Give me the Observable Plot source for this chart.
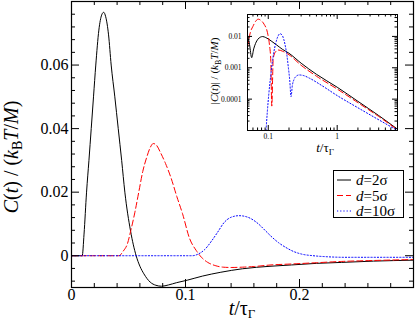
<!DOCTYPE html>
<html><head><meta charset="utf-8">
<script src="https://cdn.jsdelivr.net/npm/d3@7"></script>
<script src="https://cdn.jsdelivr.net/npm/@observablehq/plot@0.6"></script>
<style>
body{margin:0;background:white;}
#wrap{position:relative;width:415px;height:320px;overflow:hidden;background:white;}
#main{position:absolute;left:0;top:0;}
#inset{position:absolute;left:195px;top:0px;}
</style></head><body>
<div id="wrap"><div id="main"></div><div id="inset"></div></div>
<script>
// ---------- data ----------
const seriesNames = ["d=2σ", "d=5σ", "d=10σ"];
const seriesColors = ["black", "#ff0000", "#0000ff"];
const seriesDash = [null, "6,3", "1.2,2"];

// main panel: C(t)/(kB T/M) vs t/tauGamma
const blackT = [0, 0.005, 0.0094, 0.0110, 0.0132, 0.0153, 0.0173, 0.0193, 0.0213, 0.0240, 0.0265, 0.0282, 0.0300, 0.0325, 0.0348, 0.0380, 0.0410, 0.0440, 0.0468, 0.0518, 0.0567, 0.0600, 0.0635, 0.0690, 0.0740, 0.0790, 0.0850, 0.0920, 0.1015, 0.115, 0.131, 0.150, 0.175, 0.193, 0.215, 0.237, 0.265, 0.3];
const blackC = [0, 0, 0, 0.0068, 0.020, 0.030, 0.040, 0.050, 0.060, 0.0710, 0.0758, 0.0766, 0.0752, 0.0695, 0.060, 0.050, 0.040, 0.030, 0.020, 0.0078, 0, -0.0033, -0.0057, -0.0083, -0.0093, -0.0096, -0.0092, -0.0085, -0.0077, -0.0064, -0.0052, -0.0041, -0.0033, -0.0029, -0.0024, -0.0021, -0.0017, -0.0014];

const redT = [0, 0.03, 0.0415, 0.0455, 0.049, 0.052, 0.0555, 0.059, 0.0625, 0.066, 0.069, 0.0717, 0.0745, 0.078, 0.0825, 0.0872, 0.0925, 0.0975, 0.1035, 0.1095, 0.114, 0.1195, 0.126, 0.133, 0.140, 0.150, 0.160, 0.175, 0.193, 0.215, 0.237, 0.265, 0.3];
const redC = [0, 0, 0, 0.0015, 0.0037, 0.0079, 0.0135, 0.020, 0.0265, 0.0310, 0.0340, 0.0353, 0.0348, 0.0325, 0.0290, 0.0246, 0.0185, 0.0131, 0.0055, 0.0016, -0.0005, -0.0021, -0.0031, -0.0036, -0.0037, -0.0036, -0.0034, -0.0029, -0.0026, -0.0022, -0.0018, -0.0015, -0.0012];

const blueT = [0, 0.05, 0.106, 0.111, 0.117, 0.123, 0.128, 0.134, 0.140, 0.147, 0.154, 0.164, 0.170, 0.176, 0.182, 0.188, 0.195, 0.202, 0.212, 0.223, 0.24, 0.27, 0.3];
const blueC = [0, 0, 0, 0.0005, 0.0020, 0.0047, 0.0073, 0.0105, 0.0121, 0.0126, 0.0122, 0.0100, 0.0079, 0.0058, 0.0040, 0.0026, 0.0013, 0.0005, 0.0000, -0.0003, -0.0005, -0.0005, -0.0005];

// inset: |C(t)| log-log
const insetBlackT = [0.050, 0.0535, 0.0575, 0.0615, 0.0655, 0.071, 0.077, 0.083, 0.092, 0.11, 0.13, 0.16, 0.2, 0.3, 0.5, 1, 2, 4, 7.5];
const insetBlackC = [0.0105, 0.0055, 0.0021, 0.0040, 0.0060, 0.0082, 0.0095, 0.0099, 0.0092, 0.0072, 0.0055, 0.0039, 0.0029, 0.0014, 0.00062, 0.00024, 0.000085, 0.000030, 0.000011];
const insetRedT = [0.050, 0.055, 0.060, 0.066, 0.0717, 0.078, 0.087, 0.0975, 0.104, 0.109, 0.1125, 0.118, 0.126, 0.14, 0.16, 0.2, 0.3, 0.5, 1, 2, 4, 7.5];
const insetRedC = [0.0045, 0.0135, 0.021, 0.031, 0.0355, 0.0325, 0.0245, 0.0131, 0.0055, 0.0016, 0.00006, 0.0019, 0.0031, 0.0037, 0.0034, 0.0026, 0.0012, 0.00054, 0.00021, 0.000077, 0.000028, 0.0000105];
const insetBlueT = [0.091, 0.097, 0.102, 0.108, 0.114, 0.121, 0.128, 0.138, 0.148, 0.158, 0.168, 0.178, 0.187, 0.195, 0.205, 0.214, 0.224, 0.235, 0.255, 0.28, 0.32, 0.4, 0.6, 1, 2, 4, 7.5];
const insetBlueC = [0.000005, 0.00004, 0.00015, 0.0005, 0.0014, 0.0033, 0.0059, 0.0100, 0.0122, 0.0112, 0.0080, 0.0046, 0.0024, 0.0011, 0.00040, 0.00012, 0.00028, 0.00041, 0.00054, 0.00059, 0.00057, 0.00046, 0.00027, 0.00013, 0.000053, 0.000022, 0.0000100];

// ticks
const xMajorMain = [0, 0.1, 0.2, 0.3];
const xMinorMain = [0.02, 0.04, 0.06, 0.08, 0.12, 0.14, 0.16, 0.18, 0.22, 0.24, 0.26, 0.28];
const xLabelVals = [0, 0.1, 0.2];
const xLabels = ["0", "0.1", "0.2"];
const yMajorMain = [0, 0.02, 0.04, 0.06, 0.08];
const yMinorMain = [-0.008, -0.004, 0.004, 0.008, 0.012, 0.016, 0.024, 0.028, 0.032, 0.036, 0.044, 0.048, 0.052, 0.056, 0.064, 0.068, 0.072, 0.076];
const yLabelVals = [0, 0.02, 0.04, 0.06];
const yLabels = ["0", "0.02", "0.04", "0.06"];

const xMajorInset = [0.1, 1];
const xMinorInset = [0.06, 0.07, 0.08, 0.09, 0.2, 0.3, 0.4, 0.5, 0.6, 0.7, 0.8, 0.9, 2, 3, 4, 5, 6, 7];
const xInsetLabels = ["0.1", "1"];
const yMajorInset = [0.0001, 0.001, 0.01];
const yMinorInset = [2e-5, 3e-5, 4e-5, 5e-5, 6e-5, 7e-5, 8e-5, 9e-5, 2e-4, 3e-4, 4e-4, 5e-4, 6e-4, 7e-4, 8e-4, 9e-4, 2e-3, 3e-3, 4e-3, 5e-3, 6e-3, 7e-3, 8e-3, 9e-3, 0.02, 0.03, 0.04];
const yInsetLabels = ["0.0001", "0.001", "0.01"];

const zip = (T, C) => T.map((t, i) => ({t, c: C[i]}));
const mainSeries = [zip(blackT, blackC), zip(redT, redC), zip(blueT, blueC)];
const insetSeries = [zip(insetBlackT, insetBlackC), zip(insetRedT, insetRedC), zip(insetBlueT, insetBlueC)];

const FONT = "Liberation Serif";

// ---------- main plot ----------
const W = 415, H = 320, mL = 71, mR = 2, mT = 1, mB = 33;
const iH = H - mT - mB, iW = W - mL - mR;
const majLen = 8, minLen = 4;

const mainMarks = [];
mainSeries.forEach((d, k) => {
  mainMarks.push(Plot.line(d, {x: "t", y: "c", stroke: seriesColors[k], strokeWidth: 1, strokeDasharray: seriesDash[k], curve: "monotone-x"}));
});
mainMarks.push(
  Plot.tickX(xMajorMain, {x: d => d, insetTop: iH - majLen, stroke: "black"}),
  Plot.tickX(xMinorMain, {x: d => d, insetTop: iH - minLen, stroke: "black"}),
  Plot.tickX(xMajorMain, {x: d => d, insetBottom: iH - majLen, stroke: "black"}),
  Plot.tickX(xMinorMain, {x: d => d, insetBottom: iH - minLen, stroke: "black"}),
  Plot.tickY(yMajorMain, {y: d => d, insetRight: iW - majLen, stroke: "black"}),
  Plot.tickY(yMinorMain, {y: d => d, insetRight: iW - minLen, stroke: "black"}),
  Plot.tickY(yMajorMain, {y: d => d, insetLeft: iW - majLen, stroke: "black"}),
  Plot.tickY(yMinorMain, {y: d => d, insetLeft: iW - minLen, stroke: "black"}),
  Plot.axisX(xLabelVals, {tickSize: 0, tickPadding: 1, tickFormat: d => xLabels[xLabelVals.indexOf(d)], label: null, fontSize: 16}),
  Plot.axisY(yLabelVals, {tickSize: 0, tickPadding: 3, tickFormat: d => yLabels[yLabelVals.indexOf(d)], label: null, fontSize: 16}),
  Plot.frame({stroke: "black", strokeWidth: 1.2})
);

const mainPlot = Plot.plot({
  width: W, height: H, marginLeft: mL, marginRight: mR, marginTop: mT, marginBottom: mB,
  x: {domain: [0, 0.3]},
  y: {domain: [-0.01, 0.08]},
  style: {fontFamily: FONT, fontSize: "16px", background: "white", color: "black"},
  marks: mainMarks
});
document.getElementById("main").appendChild(mainPlot);

const svg = d3.select(mainPlot);
// x label
const xl = svg.append("text").attr("x", 242).attr("y", 315).attr("text-anchor", "middle")
  .style("font-family", FONT).style("font-size", "20px").attr("fill", "black");
xl.append("tspan").style("font-style", "italic").text("t");
xl.append("tspan").text("/τ");
xl.append("tspan").attr("dy", 3).style("font-size", "13px").text("Γ");

// y label
const yl = svg.append("text").attr("transform", "translate(18,157) rotate(-90)").attr("text-anchor", "middle")
  .style("font-family", FONT).style("font-size", "20px").attr("fill", "black");
yl.append("tspan").style("font-style", "italic").text("C");
yl.append("tspan").text("(");
yl.append("tspan").style("font-style", "italic").text("t");
yl.append("tspan").text(") / (");
yl.append("tspan").style("font-style", "italic").text("k");
yl.append("tspan").attr("dy", 4).style("font-size", "14px").text("B");
yl.append("tspan").attr("dy", -4).style("font-style", "italic").text("T");
yl.append("tspan").text("/");
yl.append("tspan").style("font-style", "italic").text("M");
yl.append("tspan").text(")");

// legend
const lg = svg.append("g");
lg.append("rect").attr("x", 333.5).attr("y", 170.5).attr("width", 70).attr("height", 47)
  .attr("fill", "white").attr("stroke", "black").attr("stroke-width", 1);
seriesNames.forEach((name, k) => {
  const cy = 180 + k * 15.5;
  lg.append("line").attr("x1", 337).attr("x2", 351).attr("y1", cy).attr("y2", cy)
    .attr("stroke", seriesColors[k]).attr("stroke-width", 1).attr("stroke-dasharray", seriesDash[k]);
  const t = lg.append("text").attr("x", 356).attr("y", cy + 5).attr("text-anchor", "start")
    .style("font-family", FONT).style("font-size", "15px").attr("fill", "black");
  const [lhs, rhs] = name.split("=");
  t.append("tspan").style("font-style", "italic").text(lhs);
  t.append("tspan").text("=" + rhs);
});

// ---------- inset ----------
const IW = 212, IH = 160, imL = 52, imR = 10, imT = 14, imB = 30;
const iiH = IH - imT - imB, iiW = IW - imL - imR;
const iMaj = 5, iMin = 2.5;
const insetMarks = [Plot.frame({fill: "white"})];
insetSeries.forEach((d, k) => {
  insetMarks.push(Plot.line(d, {x: "t", y: "c", stroke: seriesColors[k], strokeWidth: 1, strokeDasharray: seriesDash[k], curve: "monotone-x", clip: true}));
});
insetMarks.push(
  Plot.tickX(xMajorInset, {x: d => d, insetTop: iiH - iMaj, stroke: "black"}),
  Plot.tickX(xMinorInset, {x: d => d, insetTop: iiH - iMin, stroke: "black"}),
  Plot.tickX(xMajorInset, {x: d => d, insetBottom: iiH - iMaj, stroke: "black"}),
  Plot.tickX(xMinorInset, {x: d => d, insetBottom: iiH - iMin, stroke: "black"}),
  Plot.tickY(yMajorInset, {y: d => d, insetRight: iiW - iMaj, stroke: "black"}),
  Plot.tickY(yMinorInset, {y: d => d, insetRight: iiW - iMin, stroke: "black"}),
  Plot.tickY(yMajorInset, {y: d => d, insetLeft: iiW - iMaj, stroke: "black"}),
  Plot.tickY(yMinorInset, {y: d => d, insetLeft: iiW - iMin, stroke: "black"}),
  Plot.axisX(xMajorInset, {tickSize: 0, tickPadding: 3, tickFormat: d => xInsetLabels[xMajorInset.indexOf(d)], label: null, fontSize: 7.5}),
  Plot.axisY(yMajorInset, {tickSize: 0, tickPadding: 6, tickFormat: d => yInsetLabels[yMajorInset.indexOf(d)], label: null, fontSize: 7.5}),
  Plot.frame({stroke: "black", strokeWidth: 1})
);
const insetPlot = Plot.plot({
  width: IW, height: IH, marginLeft: imL, marginRight: imR, marginTop: imT, marginBottom: imB,
  x: {type: "log", domain: [0.05, 7.5]},
  y: {type: "log", domain: [1e-5, 0.05]},
  style: {fontFamily: FONT, fontSize: "7.5px", background: "transparent", color: "black", overflow: "visible"},
  marks: insetMarks
});
document.getElementById("inset").appendChild(insetPlot);
const isvg = d3.select(insetPlot);
const ixl = isvg.append("text").attr("x", imL + iiW / 2 + 3).attr("y", 152).attr("text-anchor", "middle")
  .style("font-family", FONT).style("font-size", "13px").attr("fill", "black");
ixl.append("tspan").style("font-style", "italic").text("t");
ixl.append("tspan").text("/τ");
ixl.append("tspan").attr("dy", 3).style("font-size", "9px").text("Γ");

const iyl = isvg.append("text").attr("transform", "translate(23,71) rotate(-90)").attr("text-anchor", "middle")
  .style("font-family", FONT).style("font-size", "11px").attr("fill", "black");
iyl.append("tspan").text("|");
iyl.append("tspan").style("font-style", "italic").text("C");
iyl.append("tspan").text("(");
iyl.append("tspan").style("font-style", "italic").text("t");
iyl.append("tspan").text(")| / (");
iyl.append("tspan").style("font-style", "italic").text("k");
iyl.append("tspan").attr("dy", 2.5).style("font-size", "8px").text("B");
iyl.append("tspan").attr("dy", -2.5).style("font-style", "italic").text("T");
iyl.append("tspan").text("/");
iyl.append("tspan").style("font-style", "italic").text("M");
iyl.append("tspan").text(")");
</script>
</body></html>
